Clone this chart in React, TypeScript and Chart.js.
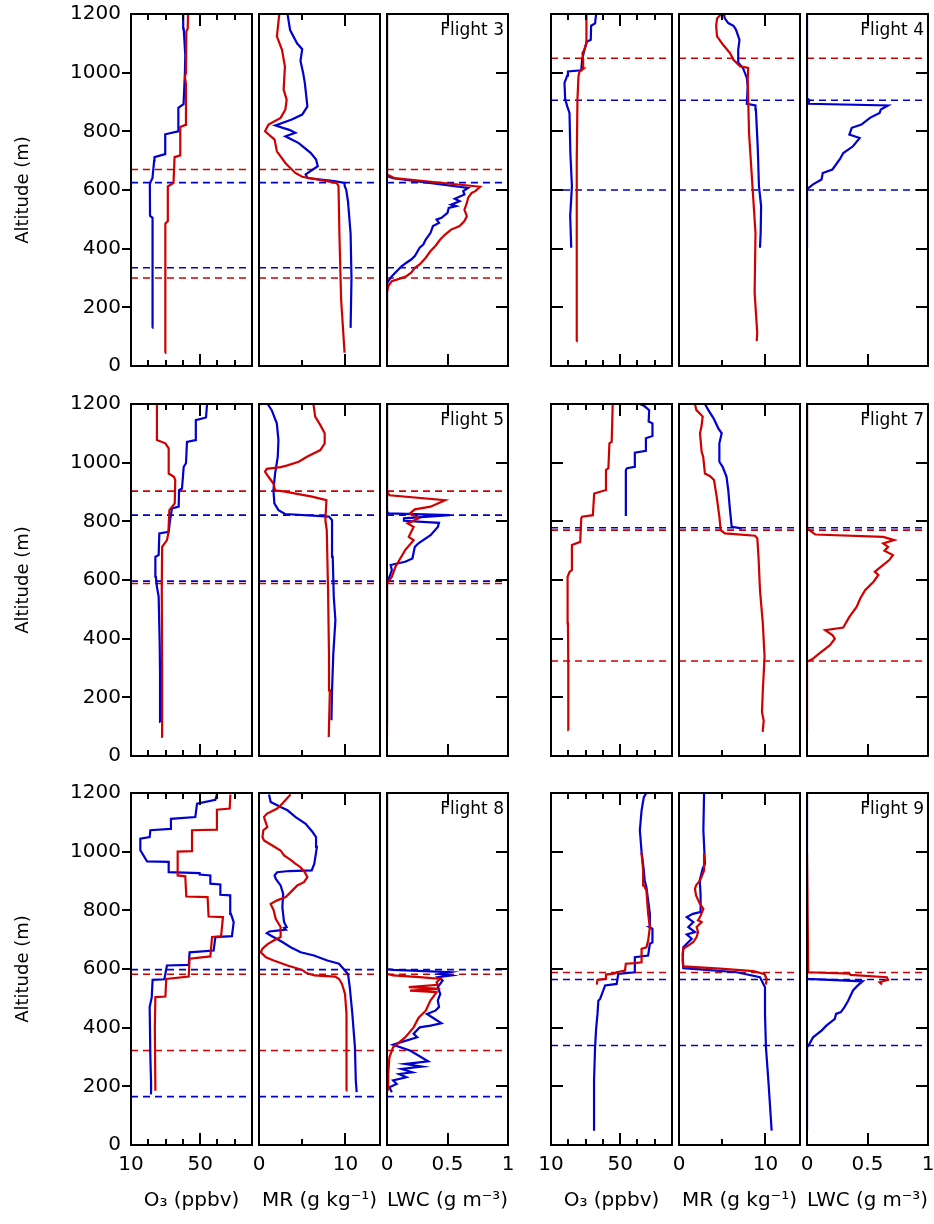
import React, { useEffect, useRef } from 'react';
import { Chart, registerables } from 'chart.js';
Chart.register(...registerables);

type P = [number, number][]; // [altitude (m), value]

const FONT = "'DejaVu Sans', sans-serif";
const BLUE = '#0000d0';
const RED = '#d00000';

const Y_TICKS = [0, 200, 400, 600, 800, 1000, 1200];
const O3_LABELS = [10, 50];
const O3_MINOR = [20, 30, 40, 60, 70];
const MR_LABELS = [0, 10];
const MR_MINOR = [5];
const LWC_LABELS = [0, 0.5, 1];
const LWC_MINOR: number[] = [];
const FLIGHT_NAMES = ['Flight 3', 'Flight 4', 'Flight 5', 'Flight 7', 'Flight 8', 'Flight 9'];

// ---------- Flight 3 ----------
const f3O3Blue: P = [[130,22.4],[250,22.2],[380,22.6],[505,22.6],[512,21.0],[620,20.9],[630,21.5],[640,22.4],[700,23.4],[712,23.6],[722,29.7],[790,29.8],[800,37.2],[880,37.4],[893,40.4],[1000,41.2],[1060,41.4],[1100,41.0],[1150,40.5],[1200,40.2]];
const f3O3Red: P = [[45,29.7],[200,29.8],[300,29.9],[485,29.9],[494,31.2],[612,31.3],[624,34.6],[712,35.2],[718,38.5],[815,38.5],[822,41.4],[960,41.8],[985,41.2],[1000,41.8],[1140,42.0],[1150,42.8],[1200,43.0]];
const f3MrBlue: P = [[130,10.6],[300,10.7],[450,10.6],[560,10.3],[600,10.1],[615,9.9],[624,9.9],[630,8.7],[641,5.6],[653,5.4],[681,6.8],[704,6.6],[726,6.0],[760,4.6],[783,3.05],[795,4.2],[805,3.5],[820,1.9],[840,3.8],[857,5.0],[885,5.6],[965,5.3],[1000,5.1],[1040,4.8],[1080,5.0],[1100,4.4],[1145,3.6],[1200,3.3]];
const f3MrRed: P = [[45,9.9],[227,9.5],[454,9.3],[613,9.2],[624,9.0],[632,7.5],[645,5.0],[658,4.2],[692,3.05],[732,2.07],[772,1.8],[800,0.7],[823,1.1],[846,2.5],[874,3.05],[908,3.2],[942,2.85],[1021,3.0],[1078,2.66],[1124,2.07],[1200,2.35]];
const f3LwcBlue: P = [[1200,0],[647,0],[640,0.05],[607,0.67],[596,0.63],[585,0.64],[570,0.56],[562,0.6],[550,0.53],[545,0.57],[539,0.51],[522,0.5],[505,0.45],[499,0.41],[488,0.43],[477,0.38],[454,0.36],[431,0.32],[414,0.3],[403,0.27],[375,0.23],[363,0.2],[352,0.16],[340,0.12],[323,0.08],[306,0.04],[289,0.01],[280,0],[130,0]];
const f3LwcRed: P = [[1200,0],[653,0],[641,0.06],[611,0.77],[596,0.73],[590,0.7],[573,0.67],[556,0.66],[533,0.64],[511,0.66],[494,0.64],[477,0.6],[465,0.53],[448,0.48],[431,0.44],[409,0.4],[392,0.36],[369,0.32],[346,0.27],[335,0.23],[318,0.2],[306,0.16],[297,0.1],[289,0.04],[272,0.01],[250,0],[45,0]];
const f3DashBlue = [625, 335];
const f3DashRed = [670, 300];

// ---------- Flight 4 ----------
const f4O3Blue: P = [[403,21.7],[511,21.1],[613,22.1],[726,21.2],[863,20.7],[885,19.4],[910,18.2],[965,17.8],[990,19.4],[1004,19.8],[1008,27.5],[1044,28.0],[1075,29.2],[1105,30.7],[1112,33.0],[1160,33.2],[1168,35.5],[1200,36.1]];
const f4O3Red: P = [[85,24.6],[400,24.8],[700,25.0],[908,25.3],[987,25.9],[1004,26.5],[1014,28.8],[1044,28.6],[1067,28.2],[1078,29.3],[1107,30.7],[1160,30.7],[1200,30.3]];
const f4MrBlue: P = [[403,9.37],[454,9.45],[545,9.5],[613,9.25],[738,9.12],[874,8.9],[888,8.85],[894,7.85],[953,7.95],[982,7.85],[1016,7.4],[1033,6.9],[1078,6.85],[1112,7.0],[1146,6.6],[1160,6.3],[1169,5.7],[1185,5.3],[1200,5.2]];
const f4MrRed: P = [[85,8.99],[113,9.05],[250,8.75],[454,8.85],[613,8.5],[795,8.1],[976,7.95],[1016,8.0],[1022,7.05],[1044,6.3],[1067,5.9],[1095,5.1],[1124,4.4],[1158,4.3],[1185,4.4],[1200,4.9]];
const f4LwcBlue: P = [[403,0],[600,0],[606,0.01],[619,0.05],[636,0.12],[658,0.13],[670,0.21],[704,0.27],[726,0.3],[749,0.38],[777,0.435],[789,0.35],[812,0.37],[823,0.45],[846,0.52],[863,0.6],[874,0.61],[888,0.67],[894,0.01],[906,0.02],[912,0],[1200,0]];
const f4DashBlue = [906, 600];
const f4DashRed = [1049];

// ---------- Flight 5 ----------
const f5O3Blue: P = [[116,27.0],[281,26.8],[383,26.6],[543,26.0],[577,25.0],[611,24.4],[679,24.1],[685,26.0],[759,26.4],[764,31.8],[800,32.5],[844,33.7],[850,37.6],[906,37.8],[912,39.5],[986,40.5],[998,41.8],[1071,42.4],[1077,47.2],[1145,47.5],[1154,53.4],[1200,54.0]];
const f5O3Red: P = [[65,28.3],[300,28.0],[565,27.8],[713,28.0],[736,30.8],[759,31.6],[838,32.2],[861,35.3],[941,35.6],[952,34.8],[963,31.8],[1049,31.8],[1066,29.9],[1077,25.0],[1200,25.0]];
const f5MrBlue: P = [[122,8.38],[224,8.45],[350,8.6],[463,8.84],[543,8.65],[679,8.53],[804,8.45],[816,8.1],[825,3.02],[838,2.25],[861,1.78],[906,1.67],[963,1.86],[1020,2.17],[1077,2.25],[1134,2.06],[1179,1.47],[1200,1.0]];
const f5MrRed: P = [[65,8.07],[224,8.2],[338,8.1],[565,7.99],[770,7.84],[804,7.68],[872,7.8],[884,6.13],[901,3.02],[906,1.86],[929,1.67],[952,1.09],[969,0.7],[979,0.9],[985,2.5],[990,3.2],[1003,4.6],[1020,5.55],[1043,7.1],[1066,7.6],[1100,7.6],[1128,7.1],[1157,6.5],[1200,6.3]];
const f5LwcBlue: P = [[116,0],[594,0],[600,0.01],[622,0.03],[634,0.04],[651,0.03],[662,0.15],[673,0.21],[713,0.23],[725,0.26],[753,0.36],[781,0.42],[795,0.43],[802,0.14],[810,0.14],[821,0.52],[827,0.01],[835,0],[1200,0]];
const f5LwcRed: P = [[65,0],[588,0],[594,0.01],[611,0.04],[645,0.07],[702,0.15],[736,0.22],[747,0.18],[781,0.22],[793,0.17],[810,0.26],[827,0.19],[841,0.23],[850,0.36],[872,0.48],[889,0.02],[901,0],[1200,0]];
const f5DashBlue = [821, 596];
const f5DashRed = [903, 588];

// ---------- Flight 7 ----------
const f7O3Blue: P = [[818,53.3],[975,53.3],[981,54.0],[986,58.5],[1034,58.5],[1040,64.9],[1083,64.9],[1091,68.7],[1134,68.7],[1140,66.5],[1179,66.8],[1193,64.0],[1200,61.4]];
const f7O3Red: P = [[88,20.2],[300,20.0],[452,19.8],[611,19.6],[628,20.8],[634,22.1],[719,22.1],[730,26.9],[810,27.5],[816,28.0],[821,34.2],[895,35.0],[906,41.3],[975,41.8],[981,43.2],[1066,43.8],[1071,45.1],[1200,45.7]];
const f7MrBlue: P = [[776,7.25],[781,6.1],[838,5.9],[906,5.7],[952,5.5],[986,5.05],[1003,4.67],[1066,4.67],[1100,4.94],[1117,4.55],[1151,4.0],[1179,3.4],[1200,3.0]];
const f7MrRed: P = [[82,9.68],[120,9.8],[150,9.6],[224,9.7],[338,9.9],[452,9.7],[565,9.37],[679,9.2],[742,9.06],[751,8.8],[759,5.32],[770,4.82],[816,4.67],[884,4.36],[941,4.05],[954,3.6],[963,3.0],[1020,2.8],[1037,2.62],[1100,2.43],[1123,2.6],[1157,2.74],[1180,2.0],[1200,1.85]];
const f7LwcBlue: P = [[776,0],[1200,0]];
const f7LwcRed: P = [[82,0],[321,0],[332,0.05],[349,0.1],[378,0.19],[400,0.23],[412,0.21],[429,0.15],[438,0.3],[474,0.35],[508,0.41],[537,0.44],[565,0.48],[594,0.55],[617,0.59],[628,0.56],[645,0.61],[668,0.68],[685,0.71],[700,0.64],[713,0.67],[725,0.63],[736,0.72],[747,0.63],[755,0.07],[761,0.05],[776,0],[1200,0]];
const f7DashBlue = [778];
const f7DashRed = [770, 324];

// ---------- Flight 8 ----------
const f8O3Blue: P = [[176,22.1],[215,21.6],[299,21.2],[470,20.8],[504,22.0],[563,22.5],[565,29.3],[612,30.8],[614,43.4],[657,43.9],[663,57.8],[709,58.8],[712,68.4],[760,69.4],[788,67.8],[851,67.4],[853,61.7],[888,61.7],[891,55.9],[919,55.9],[922,49.7],[927,49.7],[930,31.8],[965,31.8],[967,19.3],[1005,15.4],[1044,15.4],[1050,20.8],[1073,21.2],[1078,32.8],[1112,33.1],[1118,47.2],[1164,48.2],[1177,58.8],[1195,59.7]];
const f8O3Red: P = [[185,24.1],[400,23.8],[504,24.1],[506,29.9],[566,30.4],[574,43.4],[635,43.9],[643,55.9],[709,56.9],[711,62.1],[777,63.2],[779,54.9],[845,54.3],[847,42.0],[916,41.4],[919,37.0],[1000,37.0],[1002,45.3],[1073,45.3],[1075,59.7],[1143,59.7],[1147,67.1],[1195,67.5]];
const f8MrBlue: P = [[180,11.3],[220,11.2],[333,11.1],[447,10.8],[538,10.5],[583,10.3],[618,9.26],[629,7.9],[646,6.36],[657,4.82],[674,3.66],[692,2.7],[703,2.04],[714,1.35],[722,0.9],[728,1.2],[731,2.1],[734,3.1],[740,2.9],[743,3.2],[760,2.9],[811,2.7],[856,2.8],[885,2.5],[908,1.93],[919,1.8],[930,2.1],[934,3.5],[936,6.1],[959,6.4],[1016,6.7],[1050,6.6],[1067,6.2],[1095,5.4],[1118,4.24],[1141,3.3],[1152,2.5],[1169,1.35],[1195,1.16]];
const f8MrRed: P = [[185,10.1],[240,10.15],[447,10.1],[515,9.95],[549,9.6],[566,9.26],[574,8.8],[578,6.4],[586,5.5],[597,5.0],[612,3.3],[629,1.7],[640,0.8],[657,0.2],[669,0.4],[684,0.96],[697,1.7],[709,2.5],[743,2.5],[771,1.93],[800,1.7],[822,1.35],[834,2.1],[845,3.1],[868,3.86],[885,4.43],[896,5.2],[913,5.6],[930,5.3],[947,4.8],[959,4.2],[972,3.66],[987,2.9],[1004,2.5],[1021,1.54],[1038,0.58],[1050,0.4],[1073,0.5],[1084,0.96],[1107,0.7],[1118,0.58],[1129,0.9],[1147,2.1],[1164,2.7],[1195,3.66]];
const f8LwcBlue: P = [[180,0.04],[197,0.02],[208,0.08],[220,0.05],[231,0.16],[242,0.1],[248,0.21],[259,0.12],[267,0.29],[276,0.15],[285,0.34],[322,0.19],[342,0.05],[350,0.11],[367,0.25],[379,0.22],[401,0.27],[407,0.36],[415,0.45],[447,0.33],[458,0.4],[470,0.43],[493,0.42],[515,0.44],[538,0.42],[561,0.46],[572,0.42],[578,0.53],[583,0.44],[589,0.52],[597,0.05],[600,0],[1195,0]];
const f8LwcRed: P = [[185,0.01],[242,0.01],[299,0.02],[333,0.05],[367,0.15],[401,0.22],[433,0.26],[458,0.32],[493,0.36],[504,0.38],[521,0.41],[526,0.19],[532,0.44],[538,0.18],[546,0.42],[555,0.41],[566,0.44],[572,0.27],[578,0.05],[583,0],[1195,0]];
const f8DashBlue = [598, 165];
const f8DashRed = [582, 322];

// ---------- Flight 9 ----------
const f9O3Blue: P = [[49,34.9],[220,34.9],[333,35.5],[396,36.1],[447,36.9],[492,37.4],[498,38.4],[544,41.3],[549,48.0],[583,48.9],[589,58.5],[640,58.5],[646,66.2],[686,67.2],[691,68.7],[737,68.7],[743,67.0],[788,67.2],[879,65.2],[902,64.2],[936,63.7],[999,62.4],[1073,61.4],[1141,62.4],[1186,63.7],[1200,65.2]];
const f9O3Red: P = [[547,36.5],[563,36.9],[566,41.3],[581,41.8],[585,47.0],[589,48.0],[595,52.8],[618,53.3],[620,58.5],[623,62.4],[669,62.4],[674,65.2],[697,66.2],[743,67.2],[788,66.2],[868,65.2],[885,63.7],[936,63.3],[993,62.4],[995,61.8]];
const f9MrBlue: P = [[49,10.72],[220,10.34],[333,10.06],[447,9.95],[538,9.95],[549,9.76],[572,9.37],[589,6.67],[597,3.2],[603,0.5],[629,0.42],[674,0.5],[686,0.9],[703,1.47],[718,0.9],[726,1.85],[743,1.08],[760,1.66],[777,0.9],[788,1.6],[794,2.43],[851,2.5],[902,2.4],[942,2.74],[959,3.0],[1073,2.82],[1200,2.9]];
const f9MrRed: P = [[547,10.06],[566,10.14],[582,9.9],[593,8.6],[601,4.74],[609,0.5],[652,0.42],[669,0.5],[684,1.27],[692,1.66],[709,2.04],[726,2.2],[743,2.04],[760,2.62],[766,2.2],[777,2.43],[805,2.82],[822,2.43],[851,1.97],[873,1.85],[885,1.97],[902,2.43],[913,2.6],[936,2.9],[995,2.9]];
const f9LwcBlue: P = [[49,0],[333,0],[345,0.02],[367,0.05],[390,0.12],[407,0.16],[430,0.23],[447,0.24],[453,0.28],[470,0.31],[492,0.34],[527,0.38],[544,0.42],[558,0.46],[566,0],[1200,0]];
const f9LwcRed: P = [[547,0.62],[555,0.6],[563,0.67],[572,0.66],[580,0.36],[584,0.35],[589,0.01],[995,0]];
const f9DashBlue = [564, 339];
const f9DashRed = [588];

type Flight = {
  name: string; group: number; row: number;
  o3: [P | null, P | null]; mr: [P | null, P | null]; lwc: [P | null, P | null];
  dashBlue: number[]; dashRed: number[];
};

const FLIGHTS: Flight[] = [
  { name: FLIGHT_NAMES[0], group: 0, row: 0, o3: [f3O3Blue, f3O3Red], mr: [f3MrBlue, f3MrRed], lwc: [f3LwcBlue, f3LwcRed], dashBlue: f3DashBlue, dashRed: f3DashRed },
  { name: FLIGHT_NAMES[1], group: 1, row: 0, o3: [f4O3Blue, f4O3Red], mr: [f4MrBlue, f4MrRed], lwc: [f4LwcBlue, null], dashBlue: f4DashBlue, dashRed: f4DashRed },
  { name: FLIGHT_NAMES[2], group: 0, row: 1, o3: [f5O3Blue, f5O3Red], mr: [f5MrBlue, f5MrRed], lwc: [f5LwcBlue, f5LwcRed], dashBlue: f5DashBlue, dashRed: f5DashRed },
  { name: FLIGHT_NAMES[3], group: 1, row: 1, o3: [f7O3Blue, f7O3Red], mr: [f7MrBlue, f7MrRed], lwc: [f7LwcBlue, f7LwcRed], dashBlue: f7DashBlue, dashRed: f7DashRed },
  { name: FLIGHT_NAMES[4], group: 0, row: 2, o3: [f8O3Blue, f8O3Red], mr: [f8MrBlue, f8MrRed], lwc: [f8LwcBlue, f8LwcRed], dashBlue: f8DashBlue, dashRed: f8DashRed },
  { name: FLIGHT_NAMES[5], group: 1, row: 2, o3: [f9O3Blue, f9O3Red], mr: [f9MrBlue, f9MrRed], lwc: [f9LwcBlue, f9LwcRed], dashBlue: f9DashBlue, dashRed: f9DashRed },
];

const KINDS = [
  { key: 'o3', min: 10, max: 80, labels: O3_LABELS, minor: O3_MINOR, title: 'O₃ (ppbv)' },
  { key: 'mr', min: 0, max: 14, labels: MR_LABELS, minor: MR_MINOR, title: 'MR (g kg⁻¹)' },
  { key: 'lwc', min: 0, max: 1, labels: LWC_LABELS, minor: LWC_MINOR, title: 'LWC (g m⁻³)' },
];

// layout
const GROUP_X = [[131, 259, 387], [551, 679, 807]];
const ROW_Y = [14, 404, 793];
const PW = 121;
const PH = 352;

const framePlugin = {
  id: 'frame',
  afterDatasetsDraw(chart: any, _args: any, o: any) {
    const { ctx, chartArea: a, scales } = chart;
    const xs = scales.x, ys = scales.y;
    ctx.save();
    ctx.strokeStyle = '#000';
    ctx.lineWidth = 2;
    ctx.lineCap = 'butt';
    ctx.beginPath();
    const seg = (x1: number, y1: number, x2: number, y2: number) => { ctx.moveTo(x1, y1); ctx.lineTo(x2, y2); };
    const xt = (vals: number[], len: number) => {
      for (const v of vals) {
        if (v <= xs.min || v >= xs.max) continue;
        const px = Math.round(xs.getPixelForValue(v));
        seg(px, a.bottom, px, a.bottom - len);
        seg(px, a.top, px, a.top + len);
      }
    };
    xt(o.major, 12);
    xt(o.minor, 6);
    for (const v of Y_TICKS) {
      if (v <= ys.min || v >= ys.max) continue;
      const py = Math.round(ys.getPixelForValue(v));
      if (o.yLeft === 'out') seg(a.left - 9, py, a.left, py);
      if (o.yLeft === 'in') seg(a.left, py, a.left + 12, py);
      if (o.yRight) seg(a.right, py, a.right - 12, py);
    }
    ctx.stroke();
    ctx.strokeRect(a.left, a.top, a.right - a.left, a.bottom - a.top);
    if (o.label) {
      ctx.font = `17px ${FONT}`;
      ctx.fillStyle = '#000';
      ctx.textAlign = 'right';
      ctx.textBaseline = 'alphabetic';
      ctx.fillText(o.label, a.right - 4, a.top + 21);
    }
    ctx.restore();
  },
};

type Spec = {
  id: string; flight: Flight; col: number;
  cx: number; cy: number; cw: number; ch: number;
  padL: number; padR: number; padT: number; padB: number;
  showX: boolean; showY: boolean;
};

const SPECS: Spec[] = [];
FLIGHTS.forEach((f) => {
  for (let c = 0; c < 3; c++) {
    const showY = f.group === 0 && c === 0;
    const showX = f.row === 2;
    const padL = showY ? GROUP_X[0][0] : 24;
    const padR = 24;
    const padT = 30;
    const padB = showX ? 80 : 30;
    const px = GROUP_X[f.group][c];
    const py = ROW_Y[f.row];
    SPECS.push({
      id: f.name + '-' + c, flight: f, col: c,
      cx: px - padL, cy: py - padT, cw: padL + PW + padR, ch: padT + PH + padB,
      padL, padR, padT, padB, showX, showY,
    });
  }
});

function series(pts: P, color: string, order: number) {
  return {
    data: pts.map(([alt, v]) => ({ x: v, y: alt })),
    borderColor: color, backgroundColor: color, borderWidth: 2.2,
    pointRadius: 0, showLine: true, fill: false, tension: 0, order,
  };
}
function dashLine(alt: number, min: number, max: number, color: string) {
  return {
    data: [{ x: min, y: alt }, { x: max, y: alt }],
    borderColor: color, backgroundColor: color, borderWidth: 1.6, borderDash: [7, 5],
    pointRadius: 0, showLine: true, fill: false, order: 2,
  };
}

function makeConfig(s: Spec): any {
  const k = KINDS[s.col];
  const f = s.flight;
  const pair = (f as any)[k.key] as [P | null, P | null];
  const datasets: any[] = [];
  if (pair[1]) datasets.push(series(pair[1], RED, 0));
  if (pair[0]) datasets.push(series(pair[0], BLUE, 1));
  f.dashRed.forEach((a) => datasets.push(dashLine(a, k.min, k.max, RED)));
  f.dashBlue.forEach((a) => datasets.push(dashLine(a, k.min, k.max, BLUE)));
  const yLeft = s.col === 0 ? (f.group === 0 ? 'out' : 'in') : '';
  return {
    type: 'scatter',
    data: { datasets },
    options: {
      animation: false,
      responsive: false,
      devicePixelRatio: 1,
      events: [],
      layout: {
        padding: { left: s.showY ? 0 : s.padL, right: s.padR, top: s.padT, bottom: s.showX ? 0 : s.padB },
      },
      plugins: {
        legend: { display: false },
        tooltip: { enabled: false },
        frame: { major: k.labels, minor: k.minor, yLeft, yRight: s.col === 2, label: s.col === 2 ? f.name : '' },
      },
      scales: {
        x: {
          type: 'linear', min: k.min, max: k.max, display: s.showX,
          afterBuildTicks: (sc: any) => { sc.ticks = k.labels.map((v) => ({ value: v })); },
          afterFit: (sc: any) => { sc.height = s.showX ? s.padB : 0; },
          grid: { display: false, drawTicks: false },
          border: { display: false },
          ticks: { font: { family: FONT, size: 20 }, color: '#000', padding: 8, maxRotation: 0, autoSkip: false, callback: (v: any) => String(v) },
          title: { display: true, text: k.title, color: '#000', font: { family: FONT, size: 20 }, padding: { top: 0, bottom: 12 } },
        },
        y: {
          type: 'linear', min: 0, max: 1200, display: s.showY,
          afterBuildTicks: (sc: any) => { sc.ticks = Y_TICKS.map((v) => ({ value: v })); },
          afterFit: (sc: any) => { sc.width = s.showY ? s.padL : 0; },
          grid: { display: false, drawTicks: false },
          border: { display: false },
          ticks: { font: { family: FONT, size: 20 }, color: '#000', padding: 10, autoSkip: false, callback: (v: any) => String(v) },
          title: { display: true, text: 'Altitude (m)', color: '#000', font: { family: FONT, size: 18 }, padding: { top: 13, bottom: 0 } },
        },
      },
    },
    plugins: [framePlugin],
  };
}

function Panel({ spec }: { spec: Spec }) {
  const ref = useRef<HTMLCanvasElement>(null);
  useEffect(() => {
    const chart = new Chart(ref.current as HTMLCanvasElement, makeConfig(spec));
    return () => chart.destroy();
  }, [spec]);
  return (
    <canvas
      ref={ref}
      width={spec.cw}
      height={spec.ch}
      style={{ position: 'absolute', left: spec.cx, top: spec.cy, width: spec.cw, height: spec.ch }}
    />
  );
}

export default function App() {
  return (
    <div style={{ position: 'absolute', left: 0, top: 0, width: 934, height: 1224, overflow: 'hidden', background: '#fff' }}>
      {SPECS.map((s) => <Panel key={s.id} spec={s} />)}
    </div>
  );
}
